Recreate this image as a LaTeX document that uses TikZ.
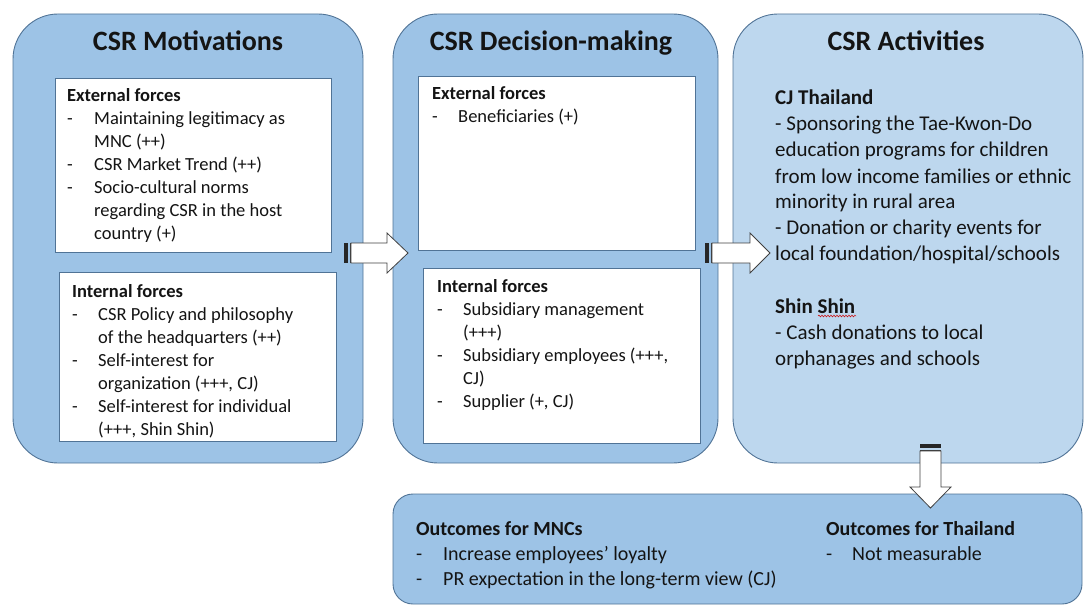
\documentclass[tikz,border=0pt]{standalone}
\usepackage{fontspec}
\setmainfont{Carlito}
\usepackage{array}
\definecolor{panelblue}{RGB}{157, 195, 230}
\definecolor{lightblue}{RGB}{189, 215, 238}
\definecolor{edgeblue}{RGB}{80, 115, 150}
\definecolor{inkdark}{RGB}{20, 20, 20}
\usetikzlibrary{calc, decorations.pathmorphing}

\begin{document}
\begin{tikzpicture}[
        x=1pt, y=-1pt,
        panel/.style={draw=edgeblue, line width=0.9pt, fill=panelblue, rounded corners=45pt, inner sep=0pt},
        inbox/.style={draw=edgeblue, line width=0.7pt, fill=white, inner sep=0pt},
        title/.style={anchor=base, inner sep=0pt, text=inkdark, font=\fontsize{28}{32}\selectfont\bfseries},
        txt/.style={anchor=base west, inner sep=0pt, text=inkdark, font=\fontsize{18.5}{23}\selectfont},
        barrow/.style={draw=black!75, fill=white, line width=0.8pt, line join=miter},
        stripe/.style={black!75, line width=0.8pt}
    ]
        \useasboundingbox (0,0) rectangle (1086,607);

        % Three columns
        \node[panel, minimum width=350pt, minimum height=449pt] (mot) at (188,238.5) {};
        \node[panel, minimum width=325pt, minimum height=449pt] (dec) at (555.5,238.5) {};
        \node[panel, fill=lightblue, minimum width=350pt, minimum height=449pt] (act) at (908,238.5) {};

        \node[title] (motT) at (188,51) {CSR Motivations};
        \node[title] (decT) at (551,51) {CSR Decision-making};
        \node[title] (actT) at (906,51) {CSR Activities};

        % CSR Motivations
        \node[inbox, minimum width=276pt, minimum height=174pt] (extA) at (193,165) {};
        \node[inbox, minimum width=277pt, minimum height=169pt] (intA) at (197.5,356.5) {};
        \node[txt] (extAtxt) at (67,102) {\begin{tabular}[t]{@{}p{27pt}@{}l@{}}
            \multicolumn{2}{@{}l@{}}{\textbf{External forces}}\\
            - & Maintaining legitimacy as\\
              & MNC (++)\\
            - & CSR Market Trend (++)\\
            - & Socio-cultural norms\\
              & regarding CSR in the host\\
              & country (+)
        \end{tabular}};
        \node[txt] (intAtxt) at (72,297) {\begin{tabular}[t]{@{}p{26pt}@{}l@{}}
            \multicolumn{2}{@{}l@{}}{\textbf{Internal forces}}\\
            - & CSR Policy and philosophy\\
              & of the headquarters (++)\\
            - & Self-interest for\\
              & organization (+++, CJ)\\
            - & Self-interest for individual\\
              & (+++, Shin Shin)
        \end{tabular}};

        % CSR Decision-making
        \node[inbox, minimum width=277pt, minimum height=174pt] (extB) at (556.5,163) {};
        \node[inbox, minimum width=277pt, minimum height=175pt] (intB) at (561.5,355.5) {};
        \node[txt] (extBtxt) at (432,100) {\begin{tabular}[t]{@{}p{26pt}@{}l@{}}
            \multicolumn{2}{@{}l@{}}{\textbf{External forces}}\\
            - & Beneficiaries (+)
        \end{tabular}};
        \node[txt] (intBtxt) at (437,292) {\begin{tabular}[t]{@{}p{26pt}@{}l@{}}
            \multicolumn{2}{@{}l@{}}{\textbf{Internal forces}}\\
            - & Subsidiary management\\
              & (+++)\\
            - & Subsidiary employees (+++,\\
              & CJ)\\
            - & Supplier (+, CJ)
        \end{tabular}};

        % CSR Activities
        \node[txt, font=\fontsize{21}{26}\selectfont] (actTxt) at (775,105) {\begin{tabular}[t]{@{}l@{}}
            \textbf{CJ Thailand}\\
            - Sponsoring the Tae-Kwon-Do\\
            education programs for children\\
            from low income families or ethnic\\
            minority in rural area\\
            - Donation or charity events for\\
            local foundation/hospital/schools\\
            \\
            \textbf{Shin Shin}\\
            - Cash donations to local\\
            orphanages and schools
        \end{tabular}};
        \draw[red!80!black, line width=0.5pt, decorate, decoration={snake, amplitude=0.9pt, segment length=3pt}] (818,316) -- (856,316);

        % Outcomes
        \node[panel, rounded corners=20pt, minimum width=689pt, minimum height=110pt] (out) at (737.5,549) {};
        \node[txt, font=\fontsize{20}{25}\selectfont] (outMNC) at (416,535) {\begin{tabular}[t]{@{}p{27pt}@{}l@{}}
            \multicolumn{2}{@{}l@{}}{\textbf{Outcomes for MNCs}}\\
            - & Increase employees’ loyalty\\
            - & PR expectation in the long-term view (CJ)
        \end{tabular}};
        \node[txt, font=\fontsize{20}{25}\selectfont] (outTH) at (826,535) {\begin{tabular}[t]{@{}p{26pt}@{}l@{}}
            \multicolumn{2}{@{}l@{}}{\textbf{Outcomes for Thailand}}\\
            - & Not measurable
        \end{tabular}};

        % Striped block arrows
        \coordinate (a1) at (344,253);
        \fill[black!85] ($(a1)+(0,-10)$) rectangle ++(3.5,20);
        \draw[stripe] ($(a1)+(6,-10)$) -- ++(0,20);
        \draw[barrow] ($(a1)+(7,-10)$) -- ++(36,0) -- ++(0,-10) -- ++(21,20) -- ++(-21,20) -- ++(0,-10) -- ++(-36,0) -- cycle;

        \coordinate (a2) at (705,253);
        \fill[black!85] ($(a2)+(0,-10)$) rectangle ++(3.5,20);
        \draw[stripe] ($(a2)+(6,-10)$) -- ++(0,20);
        \draw[barrow] ($(a2)+(7,-10)$) -- ++(38,0) -- ++(0,-10) -- ++(20,20) -- ++(-20,20) -- ++(0,-10) -- ++(-38,0) -- cycle;

        \coordinate (a3) at (930.5,444);
        \fill[black!85] ($(a3)+(-10.5,0)$) rectangle ++(21,3.5);
        \draw[stripe] ($(a3)+(-10.5,6)$) -- ++(21,0);
        \draw[barrow] ($(a3)+(-10.5,7)$) -- ++(0,36) -- ++(-10,0) -- ++(20.5,21) -- ++(20.5,-21) -- ++(-10,0) -- ++(0,-36) -- cycle;
    \end{tikzpicture}
\end{document}
